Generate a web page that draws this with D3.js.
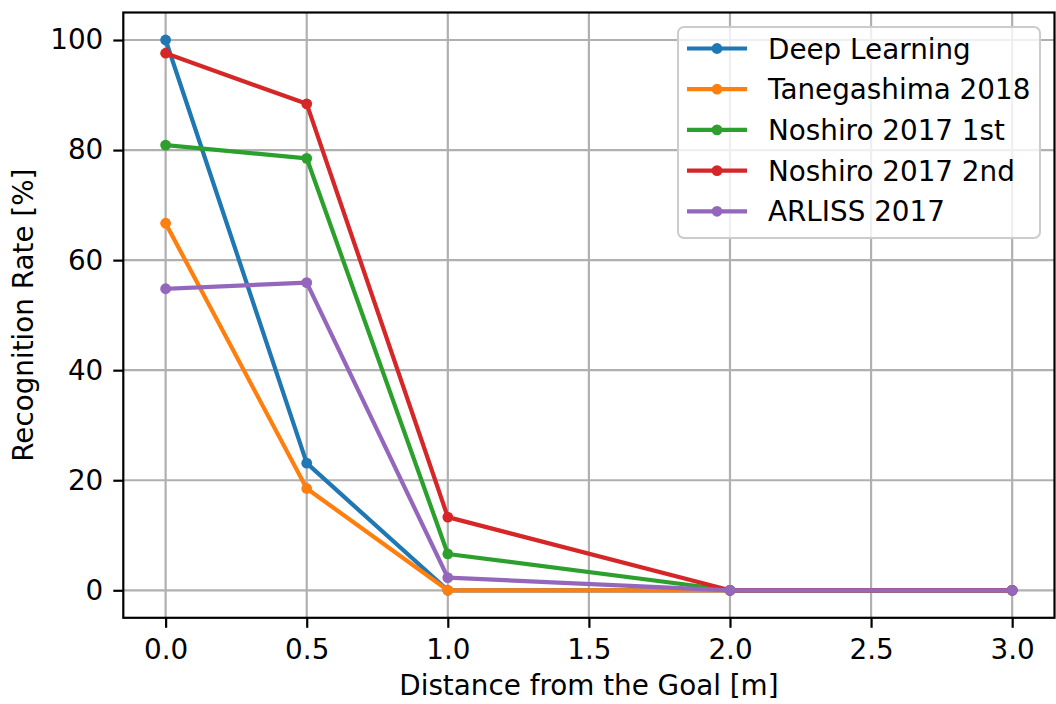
<!DOCTYPE html>
<html>
<head>
<meta charset="utf-8">
<script src="https://cdn.jsdelivr.net/npm/d3@7"></script>
<style>
  html, body { margin: 0; padding: 0; background: #fff; }
  svg { display: block; font-family: "DejaVu Sans", sans-serif; }
</style>
</head>
<body>
<svg id="chart" width="1056" height="704"></svg>
<script>
// Distances at which the goal was photographed [m]
const distances = [0.0, 0.5, 1.0, 2.0, 3.0];

// Recognition rate [%] per method / dataset
const seriesNames = ["Deep Learning", "Tanegashima 2018", "Noshiro 2017 1st", "Noshiro 2017 2nd", "ARLISS 2017"];
const deepLearning   = [100.0, 23.1, 0.0, 0.0, 0.0];
const tanegashima18  = [66.7, 18.5, 0.0, 0.0, 0.0];
const noshiro17First = [80.9, 78.5, 6.6, 0.0, 0.0];
const noshiro17Second= [97.6, 88.4, 13.3, 0.0, 0.0];
const arliss17       = [54.8, 55.9, 2.3, 0.0, 0.0];
const seriesColors = ["#1f77b4", "#ff7f0e", "#2ca02c", "#d62728", "#9467bd"];

const xTicks = [0.0, 0.5, 1.0, 1.5, 2.0, 2.5, 3.0];
const yTicks = [0, 20, 40, 60, 80, 100];

const series = [deepLearning, tanegashima18, noshiro17First, noshiro17Second, arliss17]
  .map((vals, i) => ({ name: seriesNames[i], color: seriesColors[i], values: vals }));

const svg = d3.select("#chart");
const plot = { left: 123.3, right: 1054.5, top: 12.5, bottom: 617.8 };
const fontSize = 27.8;

const x = d3.scaleLinear().domain([-0.15, 3.15]).range([plot.left, plot.right]);
const y = d3.scaleLinear().domain([-5, 105]).range([plot.bottom, plot.top]);

// Grid
const grid = svg.append("g").attr("stroke", "#b0b0b0").attr("stroke-width", 2.2);
grid.selectAll("line.vx").data(xTicks).join("line")
  .attr("x1", d => x(d)).attr("x2", d => x(d))
  .attr("y1", plot.top).attr("y2", plot.bottom);
grid.selectAll("line.hy").data(yTicks).join("line")
  .attr("y1", d => y(d)).attr("y2", d => y(d))
  .attr("x1", plot.left).attr("x2", plot.right);

// Series lines and markers
const line = d3.line().x((d, i) => x(distances[i])).y(d => y(d));
series.forEach(s => {
  const g = svg.append("g");
  g.append("path").attr("d", line(s.values))
    .attr("fill", "none").attr("stroke", s.color)
    .attr("stroke-width", 4.2).attr("stroke-linejoin", "round").attr("stroke-linecap", "square");
  g.selectAll("circle").data(s.values).join("circle")
    .attr("cx", (d, i) => x(distances[i])).attr("cy", d => y(d))
    .attr("r", 5.4).attr("fill", s.color);
});

// Axes
const xAxis = d3.axisBottom(x).tickValues(xTicks).tickFormat(d3.format(".1f"))
  .tickSize(10).tickPadding(11);
const yAxis = d3.axisLeft(y).tickValues(yTicks).tickFormat(d3.format("d"))
  .tickSize(10).tickPadding(10);

const gx = svg.append("g").attr("transform", `translate(0,${plot.bottom})`).call(xAxis);
const gy = svg.append("g").attr("transform", `translate(${plot.left},0)`).call(yAxis);
[gx, gy].forEach(g => {
  g.select(".domain").remove();
  g.selectAll(".tick line").attr("stroke", "#000").attr("stroke-width", 2.2);
  g.selectAll(".tick text").attr("fill", "#000")
    .style("font-size", fontSize + "px").style("font-family", "DejaVu Sans");
});

// Frame
svg.append("rect")
  .attr("x", plot.left).attr("y", plot.top)
  .attr("width", plot.right - plot.left).attr("height", plot.bottom - plot.top)
  .attr("fill", "none").attr("stroke", "#000").attr("stroke-width", 2.2);

// Axis titles
svg.append("text")
  .attr("x", (plot.left + plot.right) / 2).attr("y", 695)
  .attr("text-anchor", "middle").style("font-size", fontSize + "px")
  .text("Distance from the Goal [m]");
svg.append("text")
  .attr("transform", `translate(33,${(plot.top + plot.bottom) / 2}) rotate(-90)`)
  .attr("text-anchor", "middle").style("font-size", fontSize + "px")
  .text("Recognition Rate [%]");

// Legend
const legend = { x: 678, y: 27, w: 362, h: 211, rowH: 40.7, firstRow: 48.5 };
svg.append("rect")
  .attr("x", legend.x).attr("y", legend.y).attr("width", legend.w).attr("height", legend.h)
  .attr("rx", 6).attr("ry", 6)
  .attr("fill", "rgba(255,255,255,0.8)").attr("stroke", "#cccccc").attr("stroke-width", 2);
series.forEach((s, i) => {
  const cy = legend.firstRow + i * legend.rowH;
  const g = svg.append("g");
  g.append("line").attr("x1", 687).attr("x2", 747).attr("y1", cy).attr("y2", cy)
    .attr("stroke", s.color).attr("stroke-width", 4.2);
  g.append("circle").attr("cx", 717).attr("cy", cy).attr("r", 5.4).attr("fill", s.color);
  g.append("text").attr("x", 768).attr("y", cy).attr("dy", "0.36em")
    .style("font-size", fontSize + "px").text(s.name);
});
</script>
</body>
</html>
